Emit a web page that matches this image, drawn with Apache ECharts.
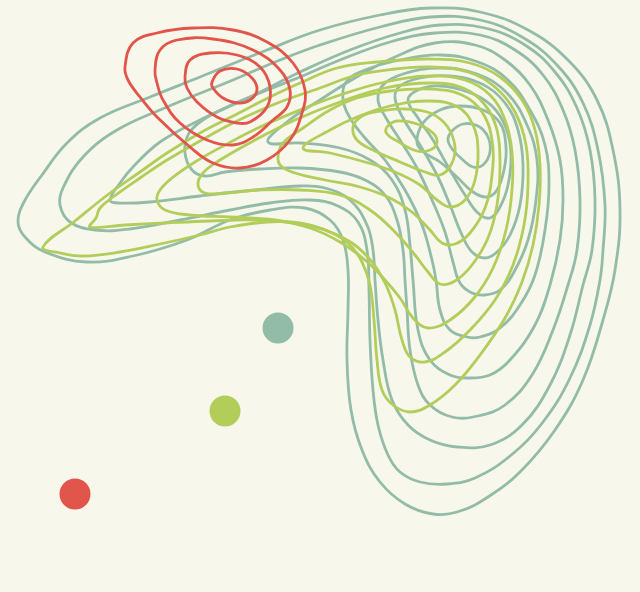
<!DOCTYPE html>
<html><head><meta charset="utf-8">
<script src="https://cdn.jsdelivr.net/npm/echarts@6/dist/echarts.min.js"></script>
<style>html,body{margin:0;padding:0;background:#F8F7EC}#main{width:640px;height:592px}</style>
</head><body><div id="main"></div>
<script>
// Contour lines (data space: x 0..640, y 0..592 downward)
const teal1 = [[18,222],[24,202],[42,175],[67,143],[100,118],[150,97],[200,77],[267,50],[320,30],[380,15],[430,8],[480,12],[528,30],[568,60],[597,100],[613,150],[620,210],[615,270],[603,320],[583,380],[555,430],[520,472],[488,497],[460,511],[433,514],[405,504],[380,482],[362,450],[351,410],[347,360],[348,310],[348,270],[343,240],[330,220],[305,208],[270,210],[230,220],[187,240],[133,256],[87,262],[45,252],[25,237]];
const teal2 = [[60,205],[63,188],[83,157],[117,130],[167,107],[233,80],[280,60],[320,45],[380,27],[430,17],[480,20],[522,37],[557,65],[583,103],[598,150],[605,205],[603,250],[600,280],[590,325],[570,378],[543,422],[510,456],[475,478],[447,484],[420,482],[400,472],[388,455],[378,425],[373,390],[370,340],[369,290],[367,250],[358,222],[338,206],[310,200],[270,203],[230,210],[180,220],[130,229],[95,230],[70,222]];
const teal3 = [[110,200],[120,183],[133,167],[160,142],[200,120],[250,97],[300,72],[350,50],[400,33],[440,25],[485,28],[525,45],[555,72],[577,108],[590,150],[595,200],[592,250],[583,285],[570,335],[550,385],[522,425],[490,445],[457,447],[430,440],[408,425],[392,400],[383,360],[378,320],[375,280],[373,250],[367,225],[350,200],[325,188],[300,186],[255,190],[200,196],[150,202],[118,203]];
const teal4 = [[185,153],[188,135],[200,122],[225,108],[260,93],[300,77],[340,60],[390,42],[435,33],[480,35],[515,50],[543,75],[563,110],[575,150],[580,200],[577,250],[568,285],[553,330],[532,375],[505,405],[478,416],[452,417],[430,405],[418,385],[410,350],[407,310],[405,280],[403,250],[397,220],[385,195],[365,180],[340,172],[300,168],[260,169],[225,172],[205,176],[192,170]];
const teal5 = [[268,142],[287,122],[320,100],[355,78],[395,57],[435,43],[475,45],[505,60],[530,85],[548,120],[560,160],[563,200],[560,240],[550,285],[535,325],[510,360],[490,375],[467,378],[450,375],[430,360],[418,330],[413,280],[410,245],[405,210],[392,180],[370,160],[340,148],[300,143]];
const teal6 = [[343,100],[346,82],[365,70],[400,60],[440,55],[478,62],[508,80],[530,110],[545,145],[549,185],[545,230],[535,275],[520,305],[500,328],[480,337],[467,337],[450,330],[440,310],[436,280],[432,260],[422,225],[405,190],[385,160],[365,138],[350,118]];
const teal7 = [[378,100],[383,85],[403,74],[440,68],[477,74],[507,93],[527,125],[537,160],[536,200],[528,240],[514,272],[500,290],[485,295],[472,293],[460,283],[453,262],[445,232],[432,200],[417,168],[400,140],[386,118]];
const teal8 = [[395,98],[400,86],[420,78],[450,76],[482,84],[505,103],[518,130],[523,165],[520,205],[510,235],[497,252],[485,258],[472,252],[462,235],[450,205],[437,175],[420,145],[403,118]];
const teal9 = [[408,100],[418,90],[440,86],[468,92],[492,106],[506,128],[511,155],[508,185],[500,207],[490,218],[478,213],[465,195],[450,170],[433,140],[418,118]];
const teal10 = [[417,143],[423,123],[440,110],[460,106],[483,110],[500,123],[506,147],[504,170],[497,190],[487,197],[473,192],[457,177],[440,162],[425,153]];
const teal11 = [[448,140],[452,131],[463,124],[478,126],[488,137],[490,152],[483,165],[473,167],[463,160],[453,150]];

const green1 = [[43,247],[75,221],[110,193],[140,172],[167,153],[200,133],[233,116],[270,97],[300,83],[337,68],[377,62],[430,59],[470,63],[500,77],[522,100],[535,130],[540,165],[539,205],[533,245],[522,282],[505,318],[480,355],[455,385],[430,405],[410,412],[393,405],[382,390],[377,360],[374,320],[370,285],[362,262],[350,245],[330,232],[300,223],[267,222],[230,227],[200,235],[160,244],[120,252],[83,256],[60,253]];
const green2 = [[90,227],[96,218],[100,208],[113,197],[140,178],[167,160],[200,141],[233,123],[275,104],[320,88],[357,75],[395,69],[430,67],[468,72],[496,88],[515,112],[526,145],[528,185],[524,225],[513,265],[495,300],[470,330],[445,352],[425,362],[410,357],[402,340],[395,310],[386,285],[372,262],[352,243],[325,230],[295,223],[255,220],[210,221],[165,223],[125,225]];
const green3 = [[157,200],[160,190],[172,178],[195,162],[225,145],[260,127],[300,110],[340,95],[385,82],[430,76],[465,80],[490,95],[505,120],[512,152],[512,190],[506,230],[493,268],[474,298],[450,320],[428,328],[413,318],[400,298],[385,280],[365,260],[340,242],[310,228],[275,220],[230,217],[190,215],[165,210]];
const green4 = [[198,185],[203,173],[220,160],[255,140],[295,120],[340,102],[385,88],[430,83],[463,88],[485,105],[497,130],[500,165],[497,205],[488,238],[472,265],[455,281],[440,284],[428,272],[415,255],[395,232],[370,210],[340,195],[300,190],[260,190],[225,193],[205,193]];
const green5 = [[278,157],[283,143],[303,128],[330,110],[357,98],[390,91],[430,89],[462,95],[482,112],[492,140],[492,175],[485,208],[470,233],[455,244],[442,243],[430,230],[412,212],[390,198],[360,187],[325,180],[295,173],[281,166]];
const green6 = [[303,148],[330,130],[357,117],[390,106],[430,101],[458,107],[473,125],[478,150],[475,180],[465,200],[450,207],[437,200],[420,185],[395,172],[365,162],[330,153]];
const green7 = [[353,127],[362,116],[380,111],[405,109],[430,113],[447,126],[455,147],[451,165],[440,175],[425,172],[400,162],[373,150],[357,140]];
const green8 = [[387,127],[397,121],[417,124],[433,133],[437,143],[430,150],[417,151],[397,141],[387,134]];

const red1 = [[212,82],[220,71],[237,69],[252,78],[257,90],[250,100],[238,103],[223,98],[213,88]];
const red2 = [[185,77],[190,60],[210,53],[237,55],[260,67],[270,87],[267,107],[250,122],[237,123],[217,117],[197,102],[187,88]];
const red3 = [[155,70],[160,50],[177,40],[213,39],[253,50],[280,70],[290,90],[287,107],[273,120],[253,137],[233,145],[207,140],[180,123],[163,100],[157,83]];
const red4 = [[125,67],[133,43],[157,33],[193,28],[233,30],[267,42],[293,63],[305,90],[302,113],[290,140],[267,160],[240,168],[213,163],[190,147],[157,117],[140,97],[128,80]];

const pointX = [75, 225, 278];
const pointY = [494, 411, 328];

const tealLevels = [teal1, teal2, teal3, teal4, teal5, teal6, teal7, teal8, teal9, teal10, teal11];
const greenLevels = [green1, green2, green3, green4, green5, green6, green7, green8];
const redLevels = [red1, red2, red3, red4];

const TEAL = '#93BCA8', GREEN = '#B3CD5B', RED = '#E1554A';

function contourSeries(levels, color, z) {
  return {
    type: 'custom', coordinateSystem: 'cartesian2d', z: z, silent: true,
    data: levels.map(l => l[0]),
    renderItem: function (params, api) {
      const pts = levels[params.dataIndex].map(p => api.coord(p));
      return {
        type: 'polygon',
        shape: { points: pts, smooth: 0.4 },
        style: { fill: 'none', stroke: color, lineWidth: 2.8 }
      };
    }
  };
}

const chart = echarts.init(document.getElementById('main'));
chart.setOption({
  backgroundColor: '#F8F7EC',
  animation: false,
  grid: { left: 0, right: 0, top: 0, bottom: 0 },
  xAxis: { type: 'value', min: 0, max: 640, show: false },
  yAxis: { type: 'value', min: 0, max: 592, inverse: true, show: false },
  series: [
    contourSeries(tealLevels, TEAL, 1),
    contourSeries(greenLevels, GREEN, 2),
    contourSeries(redLevels, RED, 3),
    {
      type: 'scatter', symbolSize: 31, z: 4,
      data: pointX.map((x, i) => ({
        value: [x, pointY[i]],
        itemStyle: { color: [RED, GREEN, TEAL][i], opacity: 1 }
      }))
    }
  ]
});
</script></body></html>
